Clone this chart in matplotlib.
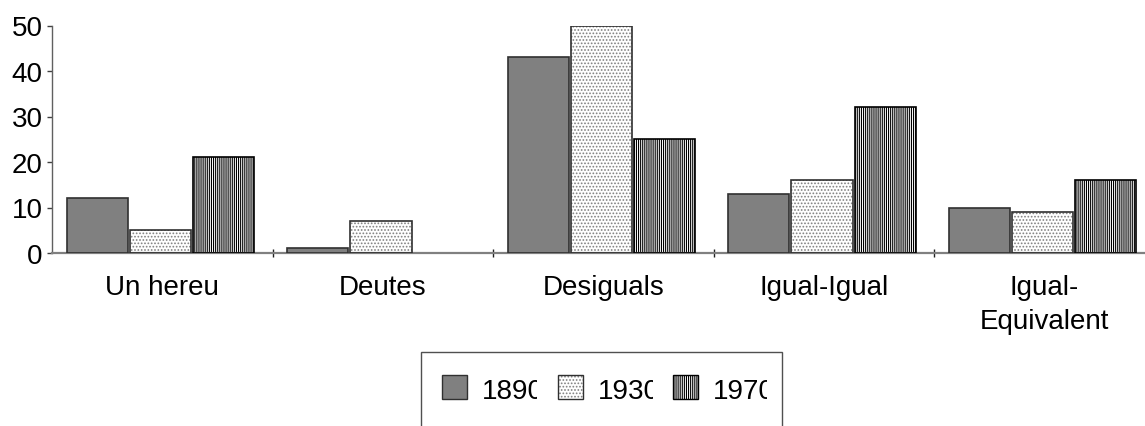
import matplotlib
matplotlib.use("Agg")
import matplotlib.pyplot as plt
from matplotlib.patches import Rectangle
import numpy as np

categories = ["Un hereu", "Deutes", "Desiguals", "Igual-Igual", "Igual-\nEquivalent"]
series_names = ["1890", "1930", "1970"]
v1890 = [12, 1, 43, 13, 10]
v1930 = [5, 7, 50, 16, 9]
v1970 = [21, 0, 25, 32, 16]
yticks = [0, 10, 20, 30, 40, 50]

plt.rcParams['font.family'] = ['Liberation Sans', 'DejaVu Sans']
plt.rcParams['hatch.linewidth'] = 0.8

W, H = 1145, 427
fig = plt.figure(figsize=(W / 100, H / 100), dpi=100)

def fx(px):
    return px / W

def fy(py):
    return 1 - py / H

ax_left, ax_top, ax_bottom = 52, 26.5, 254
cat_w = 220.5
ax = fig.add_axes([fx(ax_left), fy(ax_bottom), 5 * cat_w / W, (ax_bottom - ax_top) / H])

x = np.arange(len(categories)) + 0.492
bw = 0.277
step = 0.286

styles = [
    dict(facecolor="#808080", edgecolor="#303030", hatch=None, hatchcol=None),
    dict(facecolor="white", edgecolor="#303030", hatch="." * 5, hatchcol="#808080"),
    dict(facecolor="white", edgecolor="black", hatch="|" * 8, hatchcol="black"),
]
data = [v1890, v1930, v1970]

for i, (vals, st) in enumerate(zip(data, styles)):
    pos = x + (i - 1) * step
    lws = [1.2 if v > 0 else 0 for v in vals]
    if st["hatch"]:
        ax.bar(pos, vals, width=bw, facecolor=st["facecolor"], edgecolor=st["hatchcol"],
               hatch=st["hatch"], linewidth=0, zorder=2)
        ax.bar(pos, vals, width=bw, facecolor="none", edgecolor=st["edgecolor"],
               linewidth=lws, zorder=3)
    else:
        ax.bar(pos, vals, width=bw, facecolor=st["facecolor"], edgecolor=st["edgecolor"],
               linewidth=lws, zorder=3)

FS = 20
ax.set_xlim(0, 5)
ax.set_ylim(0, 50)
ax.set_yticks(yticks)
ax.set_yticklabels([str(t) for t in yticks], fontsize=FS)
ax.tick_params(axis='y', length=3.6, width=1, color="#404040", pad=3, direction='out')

ax.set_xticks(np.arange(len(categories)) + 0.5)
ax.set_xticklabels(categories, fontsize=FS, linespacing=1.4)
ax.tick_params(axis='x', which='major', length=0, pad=15)
ax.set_xticks([1, 2, 3, 4], minor=True)
ax.tick_params(axis='x', which='minor', length=5.5, width=1, color="#202020", direction='inout')

for s in ["top", "right"]:
    ax.spines[s].set_visible(False)
ax.spines["bottom"].set_color("#808080")
ax.spines["bottom"].set_linewidth(1.6)
ax.spines["left"].set_color("#606060")
ax.spines["left"].set_linewidth(1.0)

# Legend box (cut off at the bottom of the image)
box = Rectangle((fx(421), fy(440)), fx(782) - fx(421), fy(353) - fy(440),
                transform=fig.transFigure, facecolor="white", edgecolor="#505050",
                linewidth=1.0, zorder=1)
fig.add_artist(box)

patch_x = [442, 557.5, 672.5]
text_x = [482, 597.5, 712.5]
for px, tx, name, st in zip(patch_x, text_x, series_names, styles):
    if st["hatch"]:
        r = Rectangle((fx(px), fy(400)), fx(px + 25) - fx(px), fy(376) - fy(400),
                      transform=fig.transFigure, facecolor=st["facecolor"],
                      edgecolor=st["hatchcol"], hatch=st["hatch"], linewidth=0, zorder=2)
        fig.add_artist(r)
        r2 = Rectangle((fx(px), fy(400)), fx(px + 25) - fx(px), fy(376) - fy(400),
                       transform=fig.transFigure, facecolor="none",
                       edgecolor=st["edgecolor"], linewidth=1.0, zorder=3)
        fig.add_artist(r2)
    else:
        r = Rectangle((fx(px), fy(400)), fx(px + 25) - fx(px), fy(376) - fy(400),
                      transform=fig.transFigure, facecolor=st["facecolor"],
                      edgecolor=st["edgecolor"], linewidth=1.0, zorder=3)
        fig.add_artist(r)
    t = fig.text(fx(tx), fy(392), name, fontsize=FS, va='center', ha='left', zorder=4)
    clip = Rectangle((fx(tx - 2), fy(420)), fx(tx + 55) - fx(tx - 2), fy(360) - fy(420),
                     transform=fig.transFigure, facecolor='none', edgecolor='none')
    t.set_clip_path(clip)

fig.savefig("out.png", dpi=100)
